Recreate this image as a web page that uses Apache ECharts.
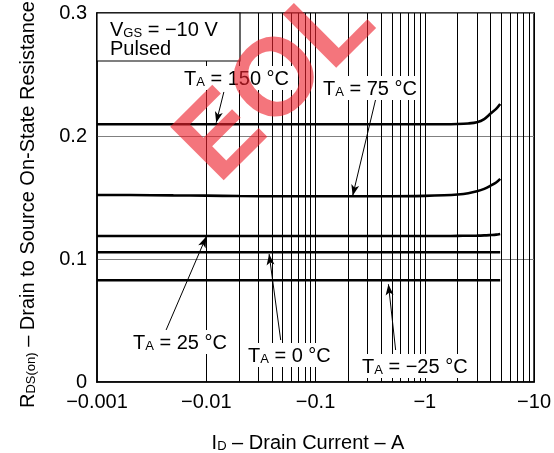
<!DOCTYPE html>
<html>
<head>
<meta charset="utf-8">
<script src="https://cdn.jsdelivr.net/npm/echarts@6/dist/echarts.min.js"></script>
<style>html,body{margin:0;padding:0;background:#fff;}#c{width:554px;height:453px;}</style>
</head>
<body>
<div id="c"></div>
<script>
// ---- data ----
const currentA = [0.001, 0.002, 0.005, 0.01, 0.02, 0.05, 0.1, 0.2, 0.5, 1, 1.5, 2, 2.5, 3, 3.5, 4, 4.5, 4.9];
const rds150 = [0.2095, 0.2095, 0.2095, 0.2095, 0.2095, 0.2095, 0.2095, 0.2095, 0.2095, 0.2095, 0.2095, 0.2097, 0.2102, 0.2112, 0.2138, 0.2182, 0.2220, 0.2260];
const rds75  = [0.1520, 0.1520, 0.1517, 0.1515, 0.1512, 0.1510, 0.1510, 0.1510, 0.1510, 0.1513, 0.1518, 0.1525, 0.1535, 0.1550, 0.1570, 0.1596, 0.1622, 0.1652];
const rds25  = [0.1187, 0.1187, 0.1187, 0.1187, 0.1187, 0.1187, 0.1187, 0.1187, 0.1187, 0.1187, 0.1187, 0.1188, 0.1189, 0.1190, 0.1192, 0.1195, 0.1198, 0.1203];
const rds0   = [0.1055, 0.1055, 0.1055, 0.1055, 0.1055, 0.1055, 0.1055, 0.1055, 0.1055, 0.1055, 0.1055, 0.1055, 0.1055, 0.1055, 0.1055, 0.1055, 0.1055, 0.1055];
const rdsM25 = [0.0827, 0.0827, 0.0827, 0.0827, 0.0827, 0.0827, 0.0827, 0.0827, 0.0827, 0.0827, 0.0827, 0.0827, 0.0827, 0.0827, 0.0827, 0.0827, 0.0827, 0.0827];
const decadeStarts = [0.001, 0.01, 0.1, 1];
const minorSteps = [1, 2, 3, 4, 5, 6, 7, 8, 9];
const yTicks = [0, 0.1, 0.2, 0.3];
// arrow annotations: [from current, from R, to current, to R]
const arrow150 = [0.01449, 0.2358, 0.01233, 0.2108];
const arrow75  = [0.354, 0.2293, 0.2188, 0.1515];
const arrow25  = [0.00429, 0.0423, 0.0100, 0.1182];
const arrow0   = [0.0480, 0.0341, 0.0376, 0.1040];
const arrowM25 = [0.541, 0.0260, 0.4645, 0.0795];

// ---- build ----
const FONT = '"Liberation Sans", Arial, sans-serif';
const gridX = decadeStarts.flatMap(d => minorSteps.map(m => +(d * m).toPrecision(3))).concat([10]);
const pairs = vals => currentA.map((x, i) => [x, vals[i]]);
const rich = {
  m: {fontSize: 20, fontFamily: FONT, color: '#000', verticalAlign: 'bottom', lineHeight: 22},
  s: {fontSize: 13, fontFamily: FONT, color: '#000', verticalAlign: 'bottom', lineHeight: 14}
};
const curve = (name, vals) => ({
  name, type: 'line', data: pairs(vals), smooth: 0.3, showSymbol: false, z: 4,
  lineStyle: {color: '#000', width: 2.6}, silent: true
});
const arrowItem = a => [{coord: [a[0], a[1]]}, {coord: [a[2], a[3]]}];
const label = (x, y, rest) => ({
  type: 'text', x, y, z: 20,
  style: {text: '{m|T}{s|A}{m|' + rest + '}', rich, align: 'left', verticalAlign: 'middle',
          backgroundColor: '#fff', padding: [1, 3, 1, 3]}
});

const chart = echarts.init(document.getElementById('c'), null, {renderer: 'canvas'});
chart.setOption({
  animation: false,
  backgroundColor: '#fff',
  grid: {left: 97, right: 16, top: 13, bottom: 71, show: true, borderColor: '#000', borderWidth: 1.5, backgroundColor: 'transparent'},
  xAxis: {
    type: 'log', logBase: 10, min: 0.001, max: 10,
    axisLine: {lineStyle: {color: '#000', width: 1.5}},
    axisTick: {show: false},
    splitLine: {show: false},
    axisLabel: {fontSize: 20, fontFamily: FONT, color: '#000', margin: 10,
      formatter: v => '\u2212' + (+(+v).toPrecision(1))}
  },
  yAxis: {
    type: 'value', min: yTicks[0], max: yTicks[yTicks.length - 1], interval: 0.1,
    axisLine: {show: true, lineStyle: {color: '#000', width: 1.5}},
    axisTick: {show: false},
    splitLine: {show: true, lineStyle: {color: '#808080', width: 1}},
    axisLabel: {fontSize: 20, fontFamily: FONT, color: '#000', margin: 10,
      formatter: v => v === 0 ? '0' : (+v).toFixed(1)}
  },
  series: [
    {
      name: 'grid', type: 'line', data: [[0.001, 0]], showSymbol: false, z: 1, silent: true,
      lineStyle: {opacity: 0},
      markLine: {silent: true, symbol: 'none', label: {show: false}, animation: false,
        lineStyle: {color: '#000', width: 1, type: 'solid'},
        emphasis: {disabled: true},
        data: gridX.map(v => ({xAxis: v}))}
    },
    curve('TA = 150 °C', rds150),
    curve('TA = 75 °C', rds75),
    curve('TA = 25 °C', rds25),
    curve('TA = 0 °C', rds0),
    curve('TA = −25 °C', rdsM25),
    {
      name: 'arrows', type: 'line', data: [[0.001, 0]], showSymbol: false, z: 15, silent: true,
      lineStyle: {opacity: 0},
      markLine: {silent: true, symbol: ['none', 'arrow'], symbolSize: [6, 11], label: {show: false}, animation: false,
        lineStyle: {color: '#000', width: 1, type: 'solid'}, z: 15,
        itemStyle: {color: '#000'},
        emphasis: {disabled: true},
        data: [arrow150, arrow75, arrow25, arrow0, arrowM25].map(arrowItem)}
    }
  ],
  graphic: [
    {type: 'rect', z: 20, shape: {x: 97, y: 13, width: 143, height: 48}, style: {fill: '#fff', stroke: '#000', lineWidth: 1.2}},
    {type: 'text', x: 110, y: 29, z: 21, style: {text: '{m|V}{s|GS}{m| = \u221210 V}', rich, align: 'left', verticalAlign: 'middle'}},
    {type: 'text', x: 110, y: 49, z: 21, style: {text: 'Pulsed', font: '20px ' + FONT, fill: '#000', align: 'left', verticalAlign: 'middle'}},
    label(181, 78, ' = 150 °C'),
    label(320, 88, ' = 75 °C'),
    label(130, 342, ' = 25 °C'),
    label(245, 355, ' = 0 °C'),
    label(359, 366, ' = \u221225 °C'),
    {type: 'text', x: 308, y: 442, z: 21, style: {text: '{m|I}{s|D}{m| \u2013 Drain Current \u2013 A}', rich, align: 'center', verticalAlign: 'middle'}},
    {type: 'text', x: 27, y: 408, rotation: Math.PI / 2, z: 21,
      style: {text: '{m|R}{s|DS(on)}{m| \u2013 Drain to Source On-State Resistance \u2013 \u03a9}', rich, align: 'left', verticalAlign: 'middle'}},
    {type: 'text', x: 277, y: 84, rotation: Math.PI / 4, z: 30, silent: true,
      style: {text: 'EOL', font: 'bold 110px ' + FONT, fill: 'rgba(238,32,44,0.62)', align: 'center', verticalAlign: 'middle'}}
  ]
});
</script>
</body>
</html>
